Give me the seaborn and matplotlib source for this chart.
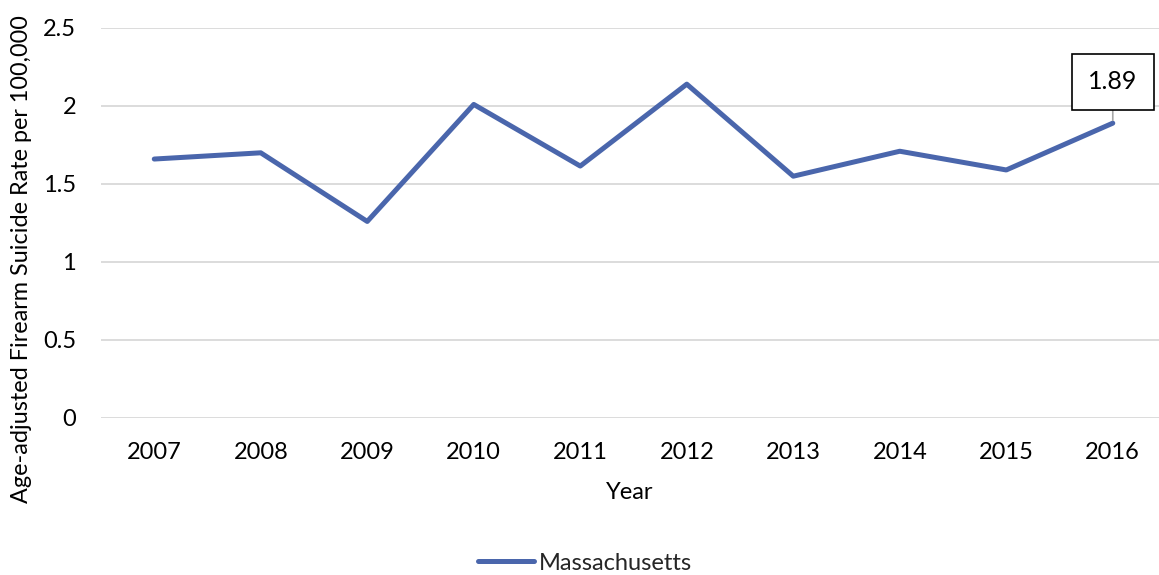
import matplotlib
matplotlib.use("Agg")
import matplotlib.pyplot as plt
import seaborn as sns
import pandas as pd
from matplotlib.lines import Line2D

years = ["2007", "2008", "2009", "2010", "2011", "2012", "2013", "2014", "2015", "2016"]
rates = [1.66, 1.70, 1.26, 2.01, 1.615, 2.14, 1.55, 1.71, 1.59, 1.89]
series_name = "Massachusetts"
y_ticks = [0, 0.5, 1, 1.5, 2, 2.5]
y_tick_labels = ["0", "0.5", "1", "1.5", "2", "2.5"]

sns.set_theme(style="white")
plt.rcParams['font.family'] = ['Lato', 'DejaVu Sans']

df = pd.DataFrame({"Year": years, "Rate": rates, "State": series_name})
df["x"] = range(len(years))

fig = plt.figure(figsize=(11.59, 5.75), dpi=100)
ax = fig.add_axes([101/1159, 1 - 418/575, 1 - 101/1159, (418 - 28)/575])

color = "#4a66ac"
fs = 17
sns.lineplot(data=df, x="x", y="Rate", hue="State", palette=[color], ax=ax,
             linewidth=3.6, legend=False, solid_capstyle="round", clip_on=False)

ax.set_ylim(0, 2.5)
ax.set_xlim(-0.5, 9.434)
ax.set_yticks(y_ticks)
ax.set_yticklabels(y_tick_labels, fontsize=fs, color="#000000")
ax.set_xticks(range(len(years)))
ax.set_xticklabels(years, fontsize=fs, color="#000000")
ax.tick_params(axis="x", length=0, pad=17)
ax.tick_params(axis="y", length=0, pad=18)
ax.yaxis.grid(True, color="#d9d9d9", linewidth=1.3)
ax.set_axisbelow(True)
for s in ax.spines.values():
    s.set_visible(False)

ax.set_xlabel("Year", fontsize=fs, color="#000000", labelpad=14)
ax.set_ylabel("Age-adjusted Firearm Suicide Rate per 100,000", fontsize=16.8,
              color="#000000", va="center")
ax.yaxis.set_label_coords((22 - 101) / 1058, (418 - 259) / 390)

# data label for last point
last_x = len(years) - 1
last_y = rates[-1]
ax.annotate(f"{last_y:.2f}", xy=(last_x, last_y), xytext=(last_x, 2.155),
            ha="center", va="center", fontsize=fs + 1, color="#000000",
            bbox=dict(boxstyle="square,pad=0.65", fc="white", ec="#000000", lw=1.2),
            arrowprops=dict(arrowstyle="-", color="#a6a6a6", lw=1.2,
                            shrinkA=0, shrinkB=2),
            annotation_clip=False)

# legend
handle = Line2D([0], [0], color=color, linewidth=3.6, solid_capstyle="round")
fig.legend([handle], [series_name], loc="center", bbox_to_anchor=(585/1159, 1 - 563/575),
           frameon=False, fontsize=fs, handlelength=2.4, handletextpad=0.2)

fig.savefig("out.png", dpi=100)
